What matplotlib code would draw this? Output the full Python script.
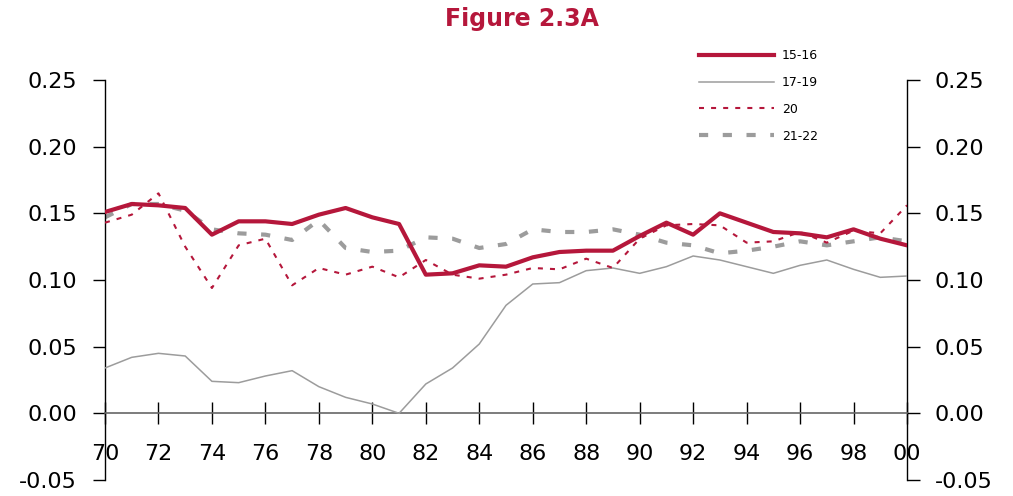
import numpy as np
import matplotlib
matplotlib.use("Agg")
import matplotlib.pyplot as plt

plt.rcParams['font.family'] = ['DejaVu Sans']

years = np.arange(1970, 2001)
xtick_years = np.arange(1970, 2001, 2)
xtick_labels = ['70', '72', '74', '76', '78', '80', '82', '84', '86', '88',
                '90', '92', '94', '96', '98', '00']
ytick_values = [-0.05, 0.0, 0.05, 0.10, 0.15, 0.20, 0.25]
ytick_labels = ['-0.05', '0.00', '0.05', '0.10', '0.15', '0.20', '0.25']

s15_16 = [0.151, 0.157, 0.156, 0.154, 0.134, 0.144, 0.144, 0.142, 0.149, 0.154,
          0.147, 0.142, 0.104, 0.105, 0.111, 0.110, 0.117, 0.121, 0.122, 0.122,
          0.133, 0.143, 0.134, 0.150, 0.143, 0.136, 0.135, 0.132, 0.138, 0.131,
          0.126]
s17_19 = [0.034, 0.042, 0.045, 0.043, 0.024, 0.023, 0.028, 0.032, 0.020, 0.012,
          0.007, 0.000, 0.022, 0.034, 0.052, 0.081, 0.097, 0.098, 0.107, 0.109,
          0.105, 0.110, 0.118, 0.115, 0.110, 0.105, 0.111, 0.115, 0.108, 0.102,
          0.103]
s20 = [0.143, 0.149, 0.165, 0.125, 0.094, 0.126, 0.131, 0.096, 0.109, 0.104,
       0.110, 0.102, 0.115, 0.104, 0.101, 0.104, 0.109, 0.108, 0.116, 0.109,
       0.131, 0.141, 0.142, 0.141, 0.128, 0.129, 0.136, 0.128, 0.137, 0.135,
       0.156]
s21_22 = [0.147, 0.157, 0.157, 0.152, 0.138, 0.135, 0.134, 0.130, 0.145, 0.124,
          0.121, 0.122, 0.132, 0.131, 0.124, 0.127, 0.138, 0.136, 0.136, 0.138,
          0.134, 0.128, 0.126, 0.120, 0.122, 0.125, 0.129, 0.126, 0.129, 0.132,
          0.129]

crimson = '#B5173B'
gray = '#9C9C9C'

fig = plt.figure(figsize=(10.13, 4.96), dpi=100, facecolor='white')
ax = fig.add_axes([105/1013, 16/496, 802/1013, 400/496])

ax.plot(years, s15_16, color=crimson, lw=3, label='15-16', zorder=5)
ax.plot(years, s17_19, color=gray, lw=1.1, label='17-19', zorder=3)
ax.plot(years, s20, color=crimson, lw=1.5, dashes=(2.4, 3.4), label='20', zorder=4)
ax.plot(years, s21_22, color=gray, lw=3, dashes=(2.2, 3.5), label='21-22', zorder=2)

ax.set_xlim(1970, 2000)
ax.set_ylim(-0.05, 0.25)
ax.set_yticks(ytick_values)
ax.set_yticklabels(ytick_labels)

ax.spines['top'].set_visible(False)
ax.spines['bottom'].set_position(('data', 0))
ax.spines['bottom'].set_color('#666666')
ax.spines['bottom'].set_linewidth(1.2)
for s in ['left', 'right']:
    ax.spines[s].set_color('black')
    ax.spines[s].set_linewidth(1.0)

ax.set_xticks(xtick_years)
ax.set_xticklabels(xtick_labels)
ax.tick_params(axis='x', direction='inout', length=16, width=1, pad=14,
               labelsize=16, color='black')
ax.tick_params(axis='y', direction='out', length=9, width=1, labelsize=16,
               left=True, right=True, labelleft=True, labelright=True, pad=11)

fig.text(0.515, 0.962, 'Figure 2.3A', color=crimson, fontsize=17,
         fontweight='bold', ha='center', va='center')

ax.legend(loc='upper left', bbox_to_anchor=(688/1013, 1 - 38/496),
          bbox_transform=fig.transFigure, frameon=False, fontsize=9,
          handlelength=6.0, handletextpad=0.6, labelspacing=1.1)

fig.savefig('out.png', dpi=100, facecolor='white')
